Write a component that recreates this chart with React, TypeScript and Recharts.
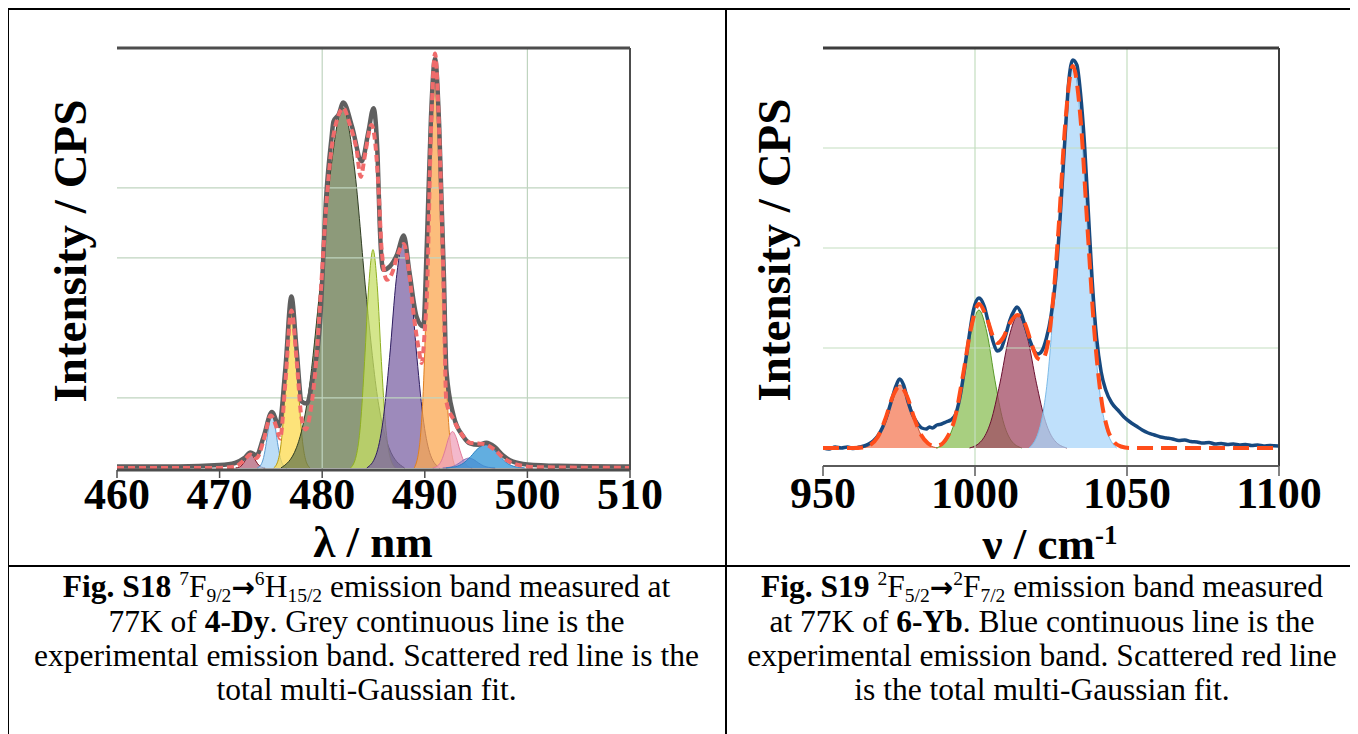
import React from "react";
import { Area, ComposedChart, Line, ReferenceLine, XAxis, YAxis } from "recharts";

type Pt = [number, number];

const serif = "'Liberation Serif', 'Times New Roman', serif";

// ---- 4-Dy : 7F9/2 -> 6H15/2 (x = wavelength / nm, y = intensity in tick units)
const dyTicksX = [460, 470, 480, 490, 500, 510];
const dyTicksY = [0, 1, 2, 3, 4, 5, 6];
const dyGridX = [480, 500];
const dyGridY = [1, 3, 4];

const dyExperimental: Pt[] = [
  [460, 0.02], [466, 0.02], [470, 0.04], [471.5, 0.07], [472.4, 0.14], [473.0, 0.22], [473.6, 0.18],
  [474.3, 0.45], [475.1, 0.8], [475.8, 0.6], [476.4, 1.4], [477.0, 2.45], [477.5, 1.7], [478.0, 0.95],
  [478.5, 0.92], [479.1, 1.3], [479.8, 2.1], [480.4, 3.9], [480.9, 4.7], [481.1, 4.95], [481.6, 5.05],
  [482.06, 5.22], [482.9, 4.88], [483.85, 4.38], [484.5, 4.8], [485.0, 5.14], [485.4, 4.45], [485.6, 3.5],
  [485.95, 2.83], [486.6, 2.88], [487.3, 3.05], [487.95, 3.32], [488.5, 2.8], [489.2, 2.16], [489.85, 2.02],
  [490.2, 3.2], [490.6, 5.0], [491.0, 5.85], [491.4, 4.9], [491.87, 2.69], [492.1, 1.4], [492.8, 0.75],
  [493.75, 0.45], [494.4, 0.35], [495.2, 0.33], [496.0, 0.36], [496.8, 0.3], [497.6, 0.18], [498.6, 0.09],
  [500, 0.05], [503, 0.03], [510, 0.02],
];

const dyFit: Pt[] = [
  [460, 0], [470, 0], [471.5, 0.02], [472.4, 0.11], [473.0, 0.19], [473.6, 0.14], [474.3, 0.4],
  [475.0, 0.75], [475.5, 0.6], [475.9, 0.42], [476.4, 1.2], [477.0, 2.25], [477.5, 1.55], [478.0, 0.7],
  [478.4, 0.55], [478.9, 0.85], [479.4, 1.5], [479.9, 2.6], [480.4, 3.75], [480.9, 4.55], [481.5, 5.0],
  [482.06, 5.14], [482.7, 4.9], [483.36, 4.54], [483.75, 4.16], [484.2, 4.5], [484.8, 4.9], [485.2, 4.6],
  [485.5, 3.97], [485.8, 3.11], [486.3, 2.69], [486.8, 2.78], [487.3, 3.02], [487.95, 3.2], [488.5, 2.75],
  [488.9, 2.21], [489.37, 1.73], [489.7, 1.5], [490.0, 1.97], [490.2, 2.45], [490.6, 4.8], [491.0, 5.92],
  [491.4, 4.8], [491.8, 2.75], [492.1, 0.95], [492.8, 0.69], [493.75, 0.45], [494.4, 0.36], [495.2, 0.35],
  [496.0, 0.33], [496.8, 0.26], [497.6, 0.15], [498.5, 0.07], [499.5, 0.03], [501, 0.01], [510, 0],
];

// fitted Gaussian components
const dyBand473: Pt[] = [[471.56, 0], [471.92, 0.011], [472.19, 0.04], [472.46, 0.097], [472.73, 0.167], [473.0, 0.2], [473.27, 0.167], [473.54, 0.097], [473.81, 0.04], [474.08, 0.011], [474.44, 0]];
const dyBand475: Pt[] = [[473.66, 0], [474.02, 0.042], [474.29, 0.149], [474.56, 0.365], [474.83, 0.626], [475.1, 0.75], [475.37, 0.626], [475.64, 0.365], [475.91, 0.149], [476.18, 0.042], [476.54, 0]];
const dyBand477: Pt[] = [[475.29, 0], [475.73, 0.123], [476.06, 0.436], [476.39, 1.07], [476.72, 1.84], [477.05, 2.2], [477.38, 1.84], [477.71, 1.07], [478.04, 0.436], [478.37, 0.123], [478.81, 0]];
const dyBand482: Pt[] = [[475.98, 0], [477.49, 0.288], [478.62, 1.02], [479.74, 2.51], [480.87, 4.3], [482.0, 5.15], [483.13, 4.3], [484.26, 2.51], [485.38, 1.02], [486.51, 0.288], [488.02, 0]];
const dyBand485: Pt[] = [[482.77, 0], [483.32, 0.175], [483.73, 0.618], [484.13, 1.52], [484.54, 2.61], [484.95, 3.12], [485.36, 2.61], [485.77, 1.52], [486.17, 0.618], [486.58, 0.175], [487.13, 0]];
const dyBand488: Pt[] = [[484.35, 0], [485.24, 0.182], [485.9, 0.644], [486.57, 1.58], [487.23, 2.71], [487.9, 3.25], [488.57, 2.71], [489.23, 1.58], [489.9, 0.644], [490.56, 0.182], [491.45, 0]];
const dyBand491: Pt[] = [[488.98, 0], [489.49, 0.33], [489.87, 1.17], [490.24, 2.87], [490.62, 4.93], [491.0, 5.9], [491.38, 4.93], [491.76, 2.87], [492.13, 1.17], [492.51, 0.33], [493.02, 0]];
const dyBand493: Pt[] = [[490.78, 0], [491.26, 0.029], [491.62, 0.103], [491.98, 0.253], [492.34, 0.434], [492.7, 0.52], [493.06, 0.434], [493.42, 0.253], [493.78, 0.103], [494.14, 0.029], [494.62, 0]];
const dyBand494: Pt[] = [[491.74, 0], [492.38, 0.008], [492.86, 0.028], [493.34, 0.068], [493.82, 0.117], [494.3, 0.14], [494.78, 0.117], [495.26, 0.068], [495.74, 0.028], [496.22, 0.008], [496.86, 0]];
const dyBand496: Pt[] = [[492.06, 0], [493.02, 0.018], [493.74, 0.065], [494.46, 0.161], [495.18, 0.276], [495.9, 0.33], [496.62, 0.276], [497.34, 0.161], [498.06, 0.065], [498.78, 0.018], [499.74, 0]];

// ---- 6-Yb : 2F5/2 -> 2F7/2 (x = wavenumber / cm-1)
const ybTicksX = [950, 1000, 1050, 1100];
const ybTicksY = [0, 1, 2, 3, 4];
const ybGridX = [1000, 1050];
const ybGridY = [1, 2, 3];

const ybExperimental: Pt[] = [
  [950, 0.0], [952, -0.01], [954, 0.01], [956, 0.0], [958, 0.01], [960, -0.005], [962, 0.01], [963.5, 0.02],
  [965, 0.04], [966.5, 0.07], [968, 0.12], [969.5, 0.2], [971, 0.32], [972.5, 0.47], [974, 0.62], [975.2, 0.69],
  [976.5, 0.63], [978, 0.46], [979.5, 0.33], [981, 0.25], [982.5, 0.2], [984, 0.19], [985, 0.21], [986, 0.2],
  [987.5, 0.23], [989, 0.24], [990.5, 0.26], [992, 0.28], [993.5, 0.33], [995, 0.5], [996.5, 0.78], [998, 1.1],
  [999.5, 1.38], [1001.3, 1.5], [1003, 1.42], [1004.5, 1.24], [1006, 1.06], [1007.3, 0.97], [1008.5, 0.99],
  [1010, 1.12], [1011.5, 1.28], [1013, 1.38], [1013.8, 1.41], [1015, 1.36], [1016.5, 1.22], [1018, 1.08],
  [1019.5, 0.97], [1020.7, 0.94], [1022, 0.97], [1023.5, 1.1], [1025, 1.32], [1026.5, 1.68], [1028, 2.3],
  [1029.5, 3.05], [1030.8, 3.65], [1032.2, 3.88], [1033.5, 3.83], [1034.7, 3.55], [1036, 3.05], [1037.3, 2.35],
  [1038.5, 1.7], [1040, 1.1], [1041.5, 0.76], [1043, 0.58], [1045, 0.45], [1047, 0.38], [1049, 0.31],
  [1051, 0.26], [1053, 0.22], [1055, 0.18], [1057, 0.15], [1059, 0.13], [1061, 0.11], [1063, 0.1],
  [1065, 0.09], [1067, 0.075], [1069, 0.08], [1071, 0.065], [1073, 0.06], [1075, 0.05], [1077, 0.055],
  [1079, 0.04], [1081, 0.045], [1083, 0.035], [1085, 0.04], [1087, 0.03], [1089, 0.035], [1091, 0.025],
  [1093, 0.03], [1095, 0.02], [1097, 0.025], [1100, 0.02],
];

const ybFit: Pt[] = [
  [950, 0], [960, 0], [963, 0.005], [965.5, 0.03], [968, 0.11], [970.5, 0.29], [973, 0.52], [975.3, 0.62],
  [977.6, 0.52], [980, 0.3], [982.3, 0.13], [984.6, 0.045], [986.5, 0.02], [988.5, 0.03], [990.7, 0.1],
  [993.4, 0.3], [996, 0.72], [998.7, 1.2], [1001.3, 1.44], [1003.9, 1.3], [1006, 1.11], [1007.5, 1.05],
  [1009.2, 1.1], [1011.5, 1.25], [1014, 1.33], [1016.5, 1.24], [1018.5, 1.05], [1020.5, 0.9], [1022, 0.88],
  [1023.8, 1.02], [1025.5, 1.42], [1027.5, 2.2], [1029.7, 3.25], [1032.2, 3.82], [1034.7, 3.3], [1037, 2.2],
  [1039.3, 1.15], [1041.5, 0.5], [1043.5, 0.2], [1045.5, 0.07], [1048, 0.015], [1051, 0], [1100, 0],
];

const ybBand975: Pt[] = [[962.82, 0], [965.94, 0.035], [968.28, 0.125], [970.62, 0.307], [972.96, 0.526], [975.3, 0.63], [977.64, 0.526], [979.98, 0.307], [982.32, 0.125], [984.66, 0.035], [987.78, 0]];
const ybBand1001: Pt[] = [[987.22, 0], [990.74, 0.077], [993.38, 0.273], [996.02, 0.672], [998.66, 1.15], [1001.3, 1.38], [1003.94, 1.15], [1006.58, 0.672], [1009.22, 0.273], [1011.86, 0.077], [1015.38, 0]];
const ybBand1014: Pt[] = [[998.2, 0], [1002.2, 0.074], [1005.2, 0.263], [1008.2, 0.648], [1011.2, 1.11], [1014.2, 1.33], [1017.2, 1.11], [1020.2, 0.648], [1023.2, 0.263], [1026.2, 0.074], [1030.2, 0]];
const ybBand1032: Pt[] = [[1017.8, 0], [1021.4, 0.214], [1024.1, 0.758], [1026.8, 1.87], [1029.5, 3.2], [1032.2, 3.83], [1034.9, 3.2], [1037.6, 1.87], [1040.3, 0.758], [1043.0, 0.214], [1046.6, 0]];

const toRows = (pts: Pt[]) => pts.map(([x, y]) => ({ x, y }));

const dyBands = [
  { id: "473", pts: dyBand473, fill: "#b16379", stroke: "#7a0f1f" },
  { id: "475", pts: dyBand475, fill: "#a6d1f3", stroke: "#5d9bd0" },
  { id: "477", pts: dyBand477, fill: "#fcda4e", stroke: "#b89a10" },
  { id: "482", pts: dyBand482, fill: "#67784e", stroke: "#2f3d22" },
  { id: "485", pts: dyBand485, fill: "#c6de66", stroke: "#8fb020" },
  { id: "488", pts: dyBand488, fill: "#7c63a4", stroke: "#2e1d60" },
  { id: "491", pts: dyBand491, fill: "#fba750", stroke: "#e08020" },
  { id: "493", pts: dyBand493, fill: "#efa0ba", stroke: "#e07a9a" },
  { id: "494", pts: dyBand494, fill: "#a28bc8", stroke: "#8a74b8" },
  { id: "496", pts: dyBand496, fill: "#2e93d6", stroke: "#2a80c0" },
];

const ybBands = [
  { id: "975", pts: ybBand975, fill: "#f47a55", stroke: "#c8502e" },
  { id: "1001", pts: ybBand1001, fill: "#8bbf56", stroke: "#5a9a2a" },
  { id: "1014", pts: ybBand1014, fill: "#a24a63", stroke: "#6a1030" },
  { id: "1032", pts: ybBand1032, fill: "#aad6fa", stroke: "#7cbbe8" },
];

const tickFont = { fontSize: 44, fontWeight: 700, fill: "#000", fontFamily: serif };

function DyChart() {
  return (
    <ComposedChart width={640} height={530} margin={{ top: 18, right: 50, bottom: 10, left: 77 }}>
      <XAxis type="number" dataKey="x" domain={[460, 510]} ticks={dyTicksX} interval={0} allowDataOverflow
        height={80} tickSize={8} tickMargin={0} tick={tickFont}
        axisLine={{ stroke: "#4d4d4d", strokeWidth: 3 }} tickLine={{ stroke: "#4d4d4d", strokeWidth: 1.5 }} />
      <YAxis type="number" domain={[-0.03, 6]} ticks={dyTicksY} interval={0} allowDataOverflow width={0}
        tickSize={8} tick={false} axisLine={{ stroke: "#9a9a9a", strokeWidth: 1.5 }}
        tickLine={{ stroke: "#555", strokeWidth: 1.5 }} />
      {dyGridX.map((v) => <ReferenceLine key={`gx${v}`} x={v} stroke="#bfd4bf" strokeWidth={1.2} />)}
      {dyGridY.map((v) => <ReferenceLine key={`gy${v}`} y={v} stroke="#bfd4bf" strokeWidth={1.2} />)}
      {dyBands.map((b) => (
        <Area key={b.id} data={toRows(b.pts)} dataKey="y" type="monotone" fill={b.fill} fillOpacity={0.75}
          stroke={b.stroke} strokeWidth={1} isAnimationActive={false} />
      ))}
      <Line data={toRows(dyExperimental)} dataKey="y" type="monotone" stroke="#5f5f5f" strokeWidth={4.5}
        dot={false} isAnimationActive={false} />
      <Line data={toRows(dyFit)} dataKey="y" type="monotone" stroke="#f06b6b" strokeWidth={4}
        strokeDasharray="7 4" dot={false} isAnimationActive={false} />
      <ReferenceLine y={6} stroke="#4d4d4d" strokeWidth={3} />
      <ReferenceLine x={510} stroke="#4d4d4d" strokeWidth={2} />
    </ComposedChart>
  );
}

function YbChart() {
  return (
    <ComposedChart width={604} height={526} margin={{ top: 18, right: 70, bottom: 10, left: 78 }}>
      <XAxis type="number" dataKey="x" domain={[950, 1100]} ticks={ybTicksX} interval={0} allowDataOverflow
        height={80} tickSize={10} tickMargin={1} tick={tickFont}
        axisLine={{ stroke: "#5a5a5a", strokeWidth: 2 }} tickLine={{ stroke: "#5a5a5a", strokeWidth: 1.5 }} />
      <YAxis type="number" domain={[-0.18, 4]} ticks={ybTicksY} interval={0} allowDataOverflow width={0}
        tickSize={8} tick={false} axisLine={{ stroke: "#555", strokeWidth: 2 }}
        tickLine={{ stroke: "#333", strokeWidth: 1.5 }} />
      {ybGridX.map((v) => <ReferenceLine key={`gx${v}`} x={v} stroke="#c4dec0" strokeWidth={1.2} />)}
      {ybGridY.map((v) => <ReferenceLine key={`gy${v}`} y={v} stroke="#c4dec0" strokeWidth={1.2} />)}
      {ybBands.map((b) => (
        <Area key={b.id} data={toRows(b.pts)} dataKey="y" type="monotone" fill={b.fill} fillOpacity={0.75}
          stroke={b.stroke} strokeWidth={1} isAnimationActive={false} />
      ))}
      <Line data={toRows(ybExperimental)} dataKey="y" type="monotone" stroke="#17497f" strokeWidth={3.5}
        dot={false} isAnimationActive={false} />
      <Line data={toRows(ybFit)} dataKey="y" type="monotone" stroke="#ff4d1a" strokeWidth={4}
        strokeDasharray="16 8" dot={false} isAnimationActive={false} />
      <ReferenceLine y={4} stroke="#3d3d3d" strokeWidth={3} />
      <ReferenceLine x={1100} stroke="#3d3d3d" strokeWidth={2} />
    </ComposedChart>
  );
}

const abs = (left: number, top: number): React.CSSProperties => ({ position: "absolute", left, top });

const yTitle = (cx: number, cy: number): React.CSSProperties => ({
  position: "absolute", left: cx, top: cy, transform: "translate(-50%, -50%) rotate(-90deg)",
  whiteSpace: "nowrap", fontFamily: serif, fontWeight: 700, fontSize: 47, lineHeight: 1,
});

const xTitle = (cx: number, cy: number): React.CSSProperties => ({
  position: "absolute", left: cx, top: cy, transform: "translate(-50%, -50%)",
  whiteSpace: "nowrap", fontFamily: serif, fontWeight: 700, fontSize: 45, lineHeight: 1,
});

const caption = (left: number, width: number): React.CSSProperties => ({
  position: "absolute", left, top: 562, width, textAlign: "center", whiteSpace: "nowrap",
  fontFamily: serif, fontSize: 31.5, lineHeight: "34px", color: "#000",
});

const sup: React.CSSProperties = { fontSize: "0.62em", verticalAlign: "0.6em", lineHeight: 0 };
const sub: React.CSSProperties = { fontSize: "0.62em", verticalAlign: "-0.25em", lineHeight: 0 };
const arrow: React.CSSProperties = { fontFamily: "'DejaVu Sans', sans-serif", fontWeight: 700, fontSize: 28 };

export default function App() {
  return (
    <div style={{ position: "relative", width: 1350, height: 726, background: "#fff" }}>
      {/* table rules */}
      <div style={{ ...abs(0, 0), width: 1352, height: 2, background: "#000" }} />
      <div style={{ ...abs(0, 0), width: 1, height: 726, background: "#000" }} />
      <div style={{ ...abs(717, 0), width: 1.5, height: 726, background: "#000" }} />
      <div style={{ ...abs(1349, 0), width: 1, height: 726, background: "#000" }} />
      <div style={{ ...abs(0, 557), width: 1352, height: 2, background: "#000" }} />

      <div style={abs(32, 22)}><DyChart /></div>
      <div style={yTitle(62, 243)}>Intensity / CPS</div>
      <div style={xTitle(365, 534)}>λ / nm</div>

      <div style={abs(737, 22)}><YbChart /></div>
      <div style={yTitle(766, 242)}>Intensity / CPS</div>
      <div style={xTitle(1042, 536)}>ν / cm<sup style={{ fontSize: "0.6em", verticalAlign: "0.55em", lineHeight: 0 }}>-1</sup></div>

      <div style={caption(0, 717)}>
        <b>Fig. S18</b> <span style={sup}>7</span>F<span style={sub}>9/2</span><span style={arrow}>→</span>
        <span style={sup}>6</span>H<span style={sub}>15/2</span> emission band measured at<br />
        77K of <b>4-Dy</b>. Grey continuous line is the<br />
        experimental emission band. Scattered red line is the<br />
        total multi-Gaussian fit.
      </div>
      <div style={caption(718, 632)}>
        <b>Fig. S19</b> <span style={sup}>2</span>F<span style={sub}>5/2</span><span style={arrow}>→</span>
        <span style={sup}>2</span>F<span style={sub}>7/2</span> emission band measured<br />
        at 77K of <b>6-Yb</b>. Blue continuous line is the<br />
        experimental emission band. Scattered red line<br />
        is the total multi-Gaussian fit.
      </div>
    </div>
  );
}
